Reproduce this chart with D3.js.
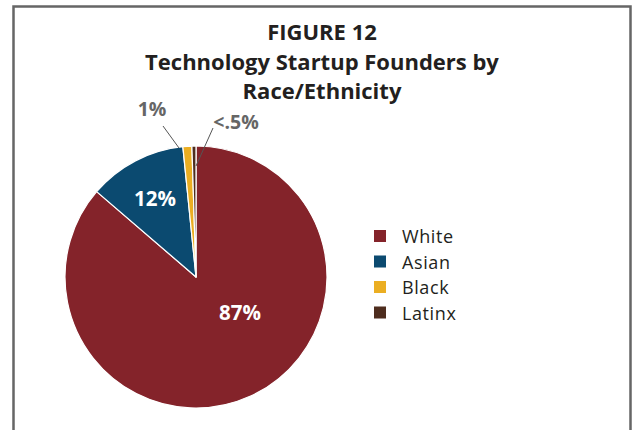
<!DOCTYPE html>
<html>
<head>
<meta charset="utf-8">
<script src="https://cdn.jsdelivr.net/npm/d3@7"></script>
<style>
  html, body { margin: 0; padding: 0; background: #fff; }
  svg { display: block; }
  text { font-family: "Open Sans", Lato, sans-serif; }
</style>
</head>
<body>
<svg id="chart" width="632" height="430"></svg>
<script>
const categories = ["White", "Asian", "Black", "Latinx"];
const values = [86.3, 12.1, 1.1, 0.5];
const valueLabels = ["87%", "12%", "1%", "<.5%"];
const colors = ["#84232a", "#0b4a70", "#ebae22", "#4e2d1e"];
const titleLines = ["FIGURE 12", "Technology Startup Founders by", "Race/Ethnicity"];

const data = categories.map((c, i) => ({ name: c, value: values[i], label: valueLabels[i], color: colors[i] }));

const svg = d3.select("#chart");

// frame
svg.append("path")
  .attr("d", "M13.5,440 L13.5,6.5 L630.5,6.5 L630.5,440")
  .attr("fill", "none")
  .attr("stroke", "#666")
  .attr("stroke-width", 2.5);

// title
svg.append("g").selectAll("text")
  .data(titleLines)
  .join("text")
  .attr("x", 322)
  .attr("y", (d, i) => 40 + i * 29.5)
  .attr("text-anchor", "middle")
  .attr("font-size", 22)
  .attr("font-weight", 700)
  .attr("fill", "#231f20")
  .text(d => d);

const cx = 196, cy = 277, r = 131;
const pie = d3.pie().value(d => d.value).sort(null);
const arcs = pie(data);
const arc = d3.arc().innerRadius(0).outerRadius(r);

const g = svg.append("g").attr("transform", `translate(${cx},${cy})`);
g.selectAll("path")
  .data(arcs)
  .join("path")
  .attr("d", arc)
  .attr("fill", d => d.data.color)
  .attr("stroke", "#fff")
  .attr("stroke-width", 1.2)
  .attr("stroke-linejoin", "round");

// inside labels
const insidePos = [[44, 35], [-41, -79]];
arcs.slice(0, 2).forEach((a, i) => {
  g.append("text")
    .attr("x", insidePos[i][0])
    .attr("y", insidePos[i][1])
    .attr("text-anchor", "middle")
    .attr("dominant-baseline", "central")
    .attr("font-size", 20.5)
    .attr("font-weight", 700)
    .attr("fill", "#fff")
    .text(a.data.label);
});

// outside labels with leader lines
const outside = [
  { idx: 2, line: [[-33, -151], [-17, -129]], text: [-44, -169] },
  { idx: 3, line: [[17, -149], [0, -111]], text: [40, -156] }
];
outside.forEach(o => {
  g.append("line")
    .attr("x1", o.line[0][0]).attr("y1", o.line[0][1])
    .attr("x2", o.line[1][0]).attr("y2", o.line[1][1])
    .attr("stroke", "#555")
    .attr("stroke-width", 1);
  g.append("text")
    .attr("x", o.text[0])
    .attr("y", o.text[1])
    .attr("text-anchor", "middle")
    .attr("dominant-baseline", "central")
    .attr("font-size", 19.5)
    .attr("font-weight", 700)
    .attr("fill", "#666")
    .text(arcs[o.idx].data.label);
});

// legend
const legend = svg.append("g").attr("transform", "translate(374,236)");
const items = legend.selectAll("g")
  .data(data)
  .join("g")
  .attr("transform", (d, i) => `translate(0,${i * 25.5})`);
items.append("rect")
  .attr("x", 0).attr("y", -6)
  .attr("width", 12).attr("height", 12)
  .attr("fill", d => d.color);
items.append("text")
  .attr("x", 28)
  .attr("y", 0)
  .attr("dominant-baseline", "central")
  .attr("font-size", 18)
  .attr("letter-spacing", 0.6)
  .attr("fill", "#231f20")
  .text(d => d.name);
</script>
</body>
</html>
